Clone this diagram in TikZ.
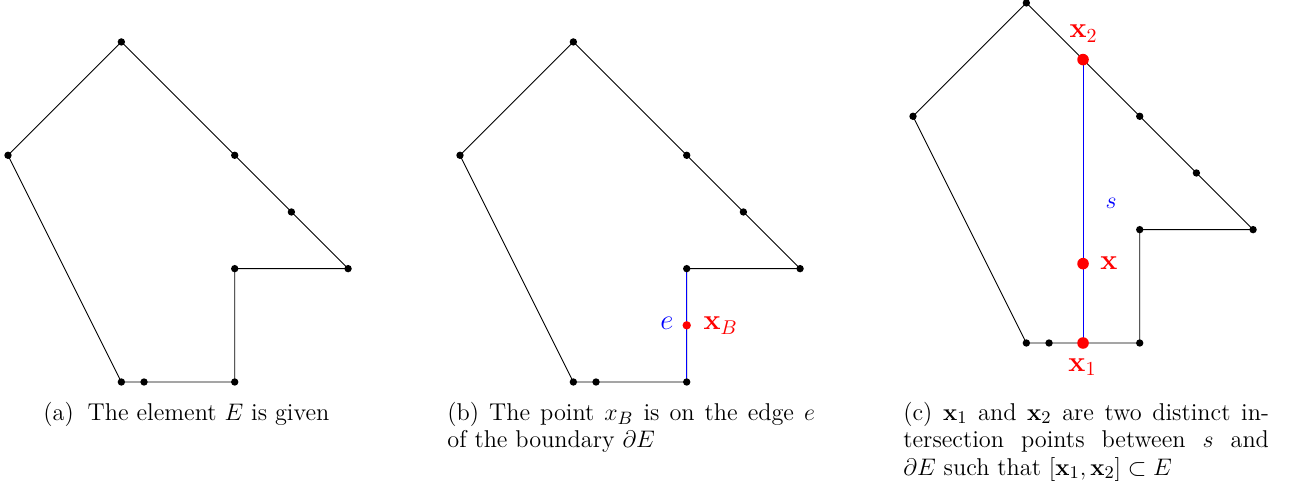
\documentclass[tikz,border=0pt]{standalone}
\usepackage{amsmath}
\newcommand{\elemshape}[1]{%
  \coordinate (#1p1) at (1,3);
  \coordinate (#1p2) at (0,2);
  \coordinate (#1p3) at (1,0);
  \coordinate (#1p4) at (1.2,0);
  \coordinate (#1p5) at (2,0);
  \coordinate (#1p6) at (2,1);
  \coordinate (#1p7) at (3,1);
  \coordinate (#1p8) at (2.5,1.5);
  \coordinate (#1p9) at (2,2);
  \draw[edgeline] (#1p1) -- (#1p2) -- (#1p3) -- (#1p4) -- (#1p5) -- (#1p6) -- (#1p7) -- (#1p8) -- (#1p9) -- cycle;
}
\newcommand{\elemdots}[1]{%
  \foreach \i in {1,...,9} \node[vdot] (#1d\i) at (#1p\i) {};
}
\begin{document}
\begin{tikzpicture}[x=0.502pt,y=-0.502pt,
  vdot/.style={circle,fill=black,inner sep=0pt,minimum size=3.7pt},
  rdot/.style={circle,fill=red,inner sep=0pt,minimum size=5.8pt},
  rsmall/.style={circle,fill=red,inner sep=0pt,minimum size=4.2pt},
  edgeline/.style={line width=0.45pt,line join=round},
  segline/.style={blue,line width=0.45pt},
  rlab/.style={text=red,font=\fontsize{14.4}{17}\selectfont,inner sep=0pt,anchor=base west},
  blab/.style={text=blue,font=\fontsize{12.2}{14}\selectfont,inner sep=0pt,anchor=base west},
  capline/.style={font=\fontsize{12.2}{14}\selectfont,inner sep=0pt,anchor=base west}]
\useasboundingbox (0,0) rectangle (1289,492);

% (a)
\begin{scope}[shift={(8,382)},x=2cm,y=2cm]
  \elemshape{a}
  \elemdots{a}
\end{scope}

% (b)
\begin{scope}[shift={(460,382)},x=2cm,y=2cm]
  \elemshape{b}
  \draw[segline] (bp5) -- (bp6);
  \elemdots{b}
  \node[rsmall] (bxB) at (2,0.5) {};
  \node[blab,font=\fontsize{14.4}{17}\selectfont] (be) at (1.765,0.46) {$e$};
  \node[rlab] (bxBl) at (2.145,0.46) {$\mathbf{x}_B$};
\end{scope}

% (c)
\begin{scope}[shift={(913,343)},x=2cm,y=2cm]
  \elemshape{c}
  \coordinate (cx1) at (1.5,0);
  \coordinate (cx2) at (1.5,2.5);
  \draw[segline] (cx1) -- (cx2);
  \elemdots{c}
  \node[rdot] (cX1) at (cx1) {};
  \node[rdot] (cX2) at (cx2) {};
  \node[rdot] (cX) at (1.5,0.7) {};
  \node[rlab] (lx2) at (1.377,2.692) {$\mathbf{x}_2$};
  \node[rlab] (lx) at (1.65,0.644) {$\mathbf{x}$};
  \node[rlab] (lx1) at (1.368,-0.247) {$\mathbf{x}_1$};
  \node[blab] (ls) at (1.695,1.19) {$s$};
\end{scope}

% captions
\node[capline] (capa) at (43,420) {(a)\hspace{3pt} The element $E$ is given};
\node[capline] (capb1) at (447,420) {\hbox to 184.5pt{(b) The point $x_B$ is on the edge $e$}};
\node[capline] (capb2) at (447,447.5) {of the boundary $\partial E$};
\node[capline] (capc1) at (903,420) {\hbox to 183.5pt{(c) $\mathbf{x}_1$ and $\mathbf{x}_2$ are two distinct in-}};
\node[capline] (capc2) at (903,447.5) {\hbox to 183.5pt{tersection points between $s$ and}};
\node[capline] (capc3) at (903,475) {$\partial E$ such that $[\mathbf{x}_1,\mathbf{x}_2]\subset E$};
\end{tikzpicture}
\end{document}
